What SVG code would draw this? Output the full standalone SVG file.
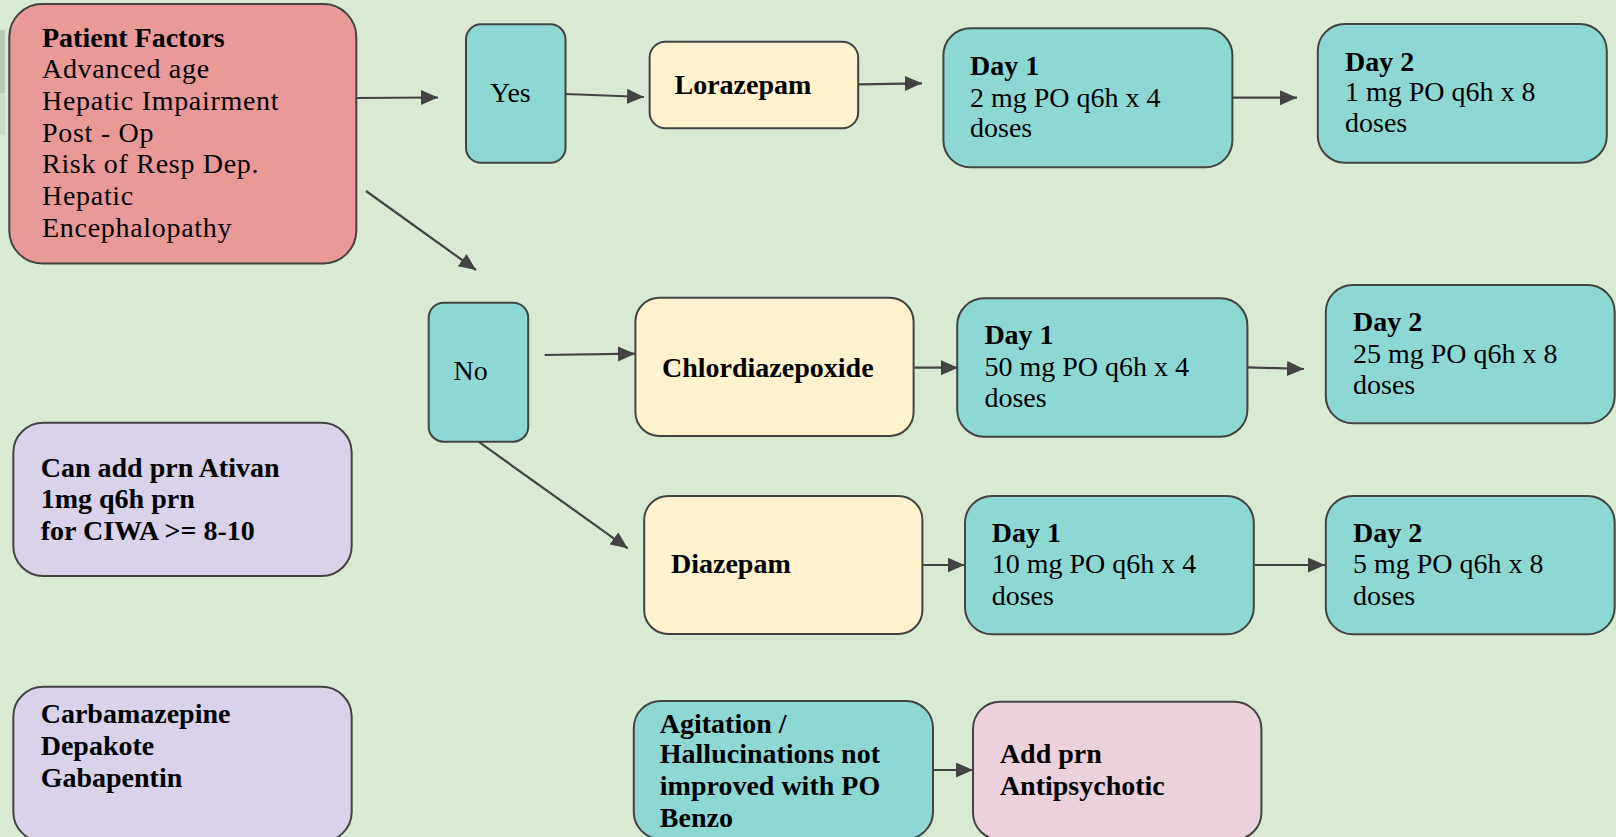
<svg xmlns="http://www.w3.org/2000/svg" width="1616" height="837" viewBox="0 0 1616 837">
<style>
  .box { stroke: #434343; stroke-width: 2; }
  .red { fill: #ea9999; }
  .teal { fill: #8dd8d3; }
  .yel { fill: #fff2cc; }
  .pur { fill: #d9d2e9; }
  .pink { fill: #ead1dc; }
  text { font-family: "Liberation Serif", "Times New Roman", serif; font-size: 28px; fill: #000; }
  .b { font-weight: bold; }
  .pf { letter-spacing: 0.7px; }
  .edge { stroke: #434343; stroke-width: 2.2; fill: none; marker-end: url(#arr); }
</style>
<defs>
  <marker id="arr" markerUnits="userSpaceOnUse" markerWidth="18" markerHeight="16" refX="17" refY="7.5" orient="auto">
    <path d="M0,0 L17,7.5 L0,15 z" fill="#434343"/>
  </marker>
</defs>
<rect x="0" y="0" width="1616" height="837" fill="#d9ead3"/>
<rect x="0" y="30" width="5" height="63" fill="#b5ccb3"/>
<rect x="0" y="93" width="5" height="42" fill="#c6dcc4"/>

<g id="connectors">
  <line class="edge" x1="356" y1="98" x2="438" y2="97.5"/>
  <line class="edge" x1="366" y1="191" x2="476" y2="270"/>
  <line class="edge" x1="566" y1="94" x2="644" y2="97"/>
  <line class="edge" x1="859" y1="84.3" x2="922" y2="83.3"/>
  <line class="edge" x1="1233" y1="97.7" x2="1297" y2="97.7"/>
  <line class="edge" x1="544.7" y1="355" x2="635" y2="353.7"/>
  <line class="edge" x1="914.7" y1="367.7" x2="958" y2="367.7"/>
  <line class="edge" x1="1248" y1="367.3" x2="1304" y2="369"/>
  <line class="edge" x1="478.5" y1="441.7" x2="627.7" y2="548.3"/>
  <line class="edge" x1="923" y1="565" x2="964.5" y2="565"/>
  <line class="edge" x1="1254.7" y1="565" x2="1325" y2="565"/>
  <line class="edge" x1="934" y1="770" x2="973" y2="770"/>
</g>

<g id="patient-factors">
  <rect class="box red" x="9.3" y="4" width="347" height="259.5" rx="33"/>
  <text x="42" y="46.7" class="b">Patient Factors</text>
  <text x="42" y="78.3" class="pf">Advanced age</text>
  <text x="42" y="110" class="pf">Hepatic Impairment</text>
  <text x="42" y="141.7" class="pf">Post - Op</text>
  <text x="42" y="173.3" class="pf">Risk of Resp Dep.</text>
  <text x="42" y="205" class="pf">Hepatic</text>
  <text x="42" y="236.7" class="pf">Encephalopathy</text>
</g>

<g id="yes">
  <rect class="box teal" x="466" y="24.3" width="99.5" height="138.5" rx="15"/>
  <text x="490" y="101.7">Yes</text>
</g>

<g id="lorazepam">
  <rect class="box yel" x="649.6" y="41.7" width="208.6" height="86.6" rx="16"/>
  <text x="674.5" y="94.3" class="b">Lorazepam</text>
</g>

<g id="lorazepam-day1">
  <rect class="box teal" x="943.4" y="28.3" width="289" height="139" rx="27"/>
  <text x="970" y="75" class="b">Day 1</text>
  <text x="970" y="106.7">2 mg PO q6h x 4</text>
  <text x="970" y="137.3">doses</text>
</g>

<g id="lorazepam-day2">
  <rect class="box teal" x="1317.8" y="24" width="289" height="138.7" rx="27"/>
  <text x="1345" y="70.7" class="b">Day 2</text>
  <text x="1345" y="100.7">1 mg PO q6h x 8</text>
  <text x="1345" y="132.3">doses</text>
</g>

<g id="no">
  <rect class="box teal" x="428.7" y="302.7" width="99.5" height="139" rx="15"/>
  <text x="453.6" y="380">No</text>
</g>

<g id="chlordiazepoxide">
  <rect class="box yel" x="635.4" y="297.7" width="278.2" height="138.3" rx="24"/>
  <text x="662" y="376.7" class="b">Chlordiazepoxide</text>
</g>

<g id="chlordiazepoxide-day1">
  <rect class="box teal" x="957.2" y="298.3" width="290.2" height="138.4" rx="27"/>
  <text x="984.4" y="344" class="b">Day 1</text>
  <text x="984.4" y="376">50 mg PO q6h x 4</text>
  <text x="984.4" y="406.7">doses</text>
</g>

<g id="chlordiazepoxide-day2">
  <rect class="box teal" x="1325.8" y="285" width="288.9" height="138.3" rx="27"/>
  <text x="1353" y="330.7" class="b">Day 2</text>
  <text x="1353" y="362.7">25 mg PO q6h x 8</text>
  <text x="1353" y="394">doses</text>
</g>

<g id="diazepam">
  <rect class="box yel" x="644.2" y="496" width="278.2" height="138" rx="24"/>
  <text x="671" y="573.3" class="b">Diazepam</text>
</g>

<g id="diazepam-day1">
  <rect class="box teal" x="965" y="496" width="288.8" height="138.3" rx="27"/>
  <text x="991.7" y="541.7" class="b">Day 1</text>
  <text x="991.7" y="573.3">10 mg PO q6h x 4</text>
  <text x="991.7" y="605">doses</text>
</g>

<g id="diazepam-day2">
  <rect class="box teal" x="1325.8" y="496" width="288.9" height="138.3" rx="27"/>
  <text x="1353" y="541.7" class="b">Day 2</text>
  <text x="1353" y="573.3">5 mg PO q6h x 8</text>
  <text x="1353" y="605">doses</text>
</g>

<g id="prn-ativan">
  <rect class="box pur" x="13.3" y="422.7" width="338.4" height="153.3" rx="30"/>
  <text x="40.7" y="476.7" class="b">Can add prn Ativan</text>
  <text x="40.7" y="508.3" class="b">1mg q6h prn</text>
  <text x="40.7" y="540" class="b">for CIWA &gt;= 8-10</text>
</g>

<g id="adjuncts">
  <rect class="box pur" x="13.3" y="686.7" width="338.4" height="155" rx="30"/>
  <text x="40.7" y="723.3" class="b">Carbamazepine</text>
  <text x="40.7" y="755" class="b">Depakote</text>
  <text x="40.7" y="786.7" class="b">Gabapentin</text>
</g>

<g id="agitation">
  <rect class="box teal" x="633.8" y="701" width="299.2" height="138" rx="27"/>
  <text x="659.8" y="732.7" class="b">Agitation /</text>
  <text x="659.8" y="763.3" class="b">Hallucinations not</text>
  <text x="659.8" y="795" class="b">improved with PO</text>
  <text x="659.8" y="826.7" class="b">Benzo</text>
</g>

<g id="add-antipsychotic">
  <rect class="box pink" x="973" y="701.7" width="288.4" height="138" rx="27"/>
  <text x="999.9" y="763.3" class="b">Add prn</text>
  <text x="999.9" y="795" class="b">Antipsychotic</text>
</g>
</svg>
